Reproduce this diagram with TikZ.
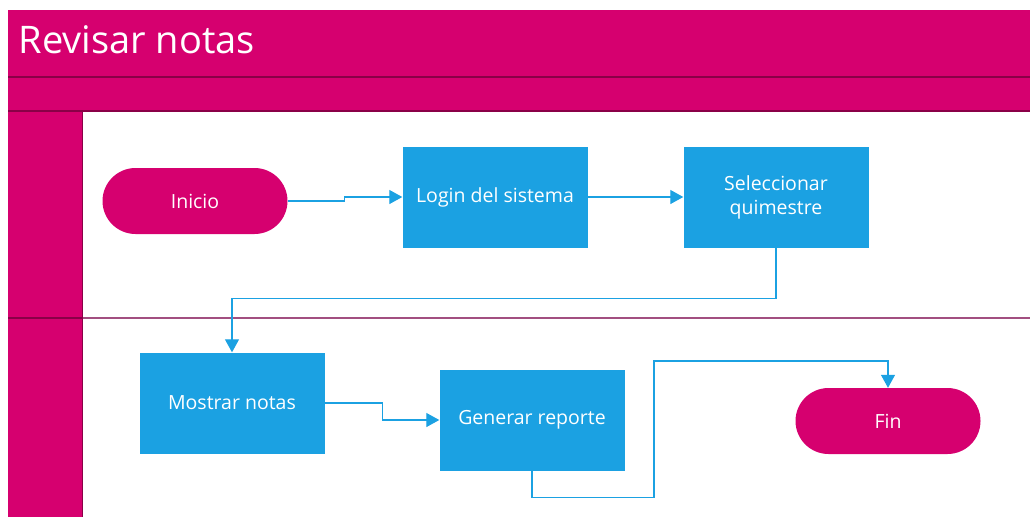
\documentclass[tikz,border=0pt]{standalone}
\usepackage{fontspec}
\setmainfont{Open Sans}
\usetikzlibrary{positioning,arrows.meta,shapes.misc}
\definecolor{lanepink}{HTML}{D6006F}
\definecolor{laneline}{HTML}{8A0047}
\definecolor{lanesep}{HTML}{A24F80}
\definecolor{stepblue}{HTML}{1BA1E2}

\begin{document}
\begin{tikzpicture}[x=1pt,y=-1pt,
		process/.style={fill=stepblue, text=white, minimum width=185pt, minimum height=101pt, align=center, inner sep=0pt, font=\fontsize{19.5}{24}\selectfont},
		terminal/.style={fill=lanepink, text=white, rounded rectangle, minimum width=185pt, minimum height=66pt, inner sep=0pt, font=\fontsize{19.5}{24}\selectfont},
		flow/.style={draw=stepblue, line width=1.2pt, -{Triangle[width=14pt,length=13pt]}},
	]
	% Frame and lanes
	\useasboundingbox (0,0) rectangle (1030,517);
	\fill[lanepink] (8,10) rectangle (1030,111);
	\fill[lanepink] (8,111) rectangle (82,517);
	\draw[laneline, line width=1.5pt] (8,77) -- (1030,77);
	\draw[laneline, line width=1.5pt] (8,111) -- (1030,111);
	\draw[lanesep, line width=2pt] (82,318) -- (1030,318);
	\draw[laneline, line width=2pt] (8,318) -- (82,318);
	\draw[laneline, line width=1pt] (82,111) -- (82,517);
	\node (title) [anchor=west, text=white, font=\fontsize{38}{44}\selectfont] at (15,40) {Revisar notas};
	% Steps
	\node (inicio) [terminal] at (195,201) {Inicio};
	\node (login) [process] at (495,197) {Login del sistema};
	\node (selec) [process] at (776,197) {Seleccionar\\quimestre};
	\node (mostrar) [process] at (232,403) {Mostrar notas};
	\node (generar) [process] at (532,420) {Generar reporte};
	\node (fin) [terminal] at (888,421) {Fin};
	\coordinate (bend) at (654,361);
	% Connectors
	\draw[flow] (inicio.east) -- ++(57,0) |- (login.west);
	\draw[flow] (login) -- (selec);
	\draw[flow] (selec.south) -- ++(0,51) -| (mostrar.north);
	\draw[flow] (mostrar.east) -- ++(58,0) |- (generar.west);
	\draw[flow] (generar.south) -- ++(0,27) -| (bend) -| (fin.north);
\end{tikzpicture}
\end{document}
